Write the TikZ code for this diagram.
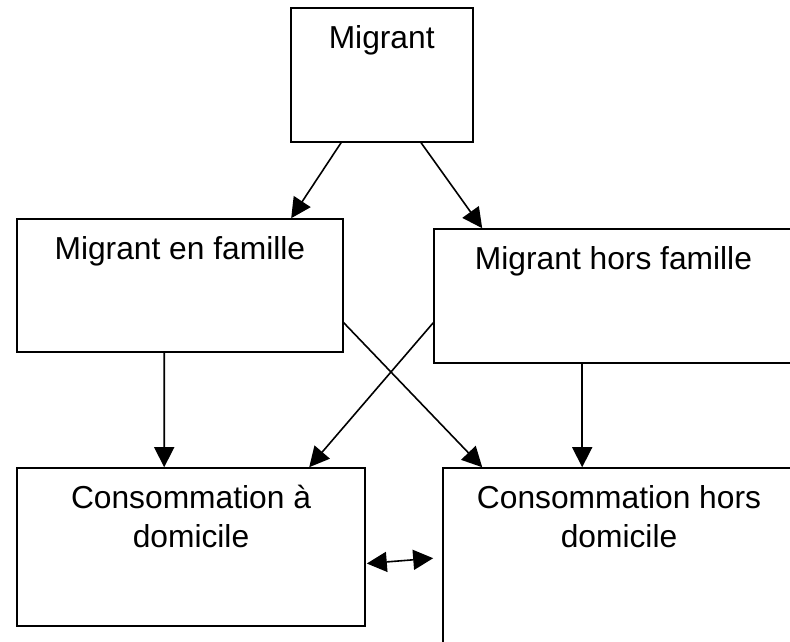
\documentclass[tikz,border=0pt]{standalone}
\usepackage{fontspec}
\setmainfont{Liberation Sans}
\usetikzlibrary{positioning, arrows.meta, calc}

\tikzset{
  box/.style={draw, line width=1.6pt, inner sep=0pt},
  txt/.style={anchor=base, yshift=-41.5pt, align=center, inner sep=0pt,
    font=\fontsize{31.75}{39}\selectfont},
  txttwo/.style={txt, yshift=-39pt},
  arr/.style={line width=1.6pt, -{Triangle[length=20pt, width=20pt]}},
  darr/.style={line width=1.6pt, {Triangle[length=20pt, width=20pt]}-{Triangle[length=20pt, width=20pt]}}
}

\begin{document}
\begin{tikzpicture}[x=1pt, y=-1pt]
\useasboundingbox (0, 0) rectangle (790, 641);

\node[box, minimum width=182, minimum height=133.7, label={[txt]north:Migrant}] (mig) at (381.7, 74.85) {};
\node[box, minimum width=325.7, minimum height=133, label={[txt]north:Migrant en famille}] (fam) at (179.85, 285.5) {};
\node[box, minimum width=359, minimum height=134, label={[txt]north:Migrant hors famille}] (hors) at (613.5, 296) {};
\node[box, minimum width=348, minimum height=158, label={[txttwo]north:{Consommation à\\domicile}}] (dom) at (191, 547) {};
\node[box, minimum width=352, minimum height=200, label={[txttwo]north:{Consommation hors\\domicile}}] (hdom) at (619, 568) {};

\draw[arr] ($(mig.south west)+(51.3, 0)$) -- ($(fam.north west)+(275, 0)$);
\draw[arr] ($(mig.south west)+(131, 0)$) -- ($(hors.north west)+(49, 0)$);
\draw[arr] ($(fam.south west)+(148, 0)$) -- ($(dom.north west)+(148, 0)$);
\draw[arr] ($(fam.south east)+(0, -30.3)$) -- ($(hdom.north west)+(40, 0)$);
\draw[arr] ($(hors.south west)+(0, -41)$) -- ($(dom.north west)+(293, 0)$);
\draw[arr] ($(hors.south west)+(149, 0)$) -- ($(hdom.north west)+(140, 0)$);
\draw[darr] ($(dom.south east)+(1, -63.3)$) -- ($(hdom.north west)+(-9, 91)$);
\end{tikzpicture}
\end{document}
